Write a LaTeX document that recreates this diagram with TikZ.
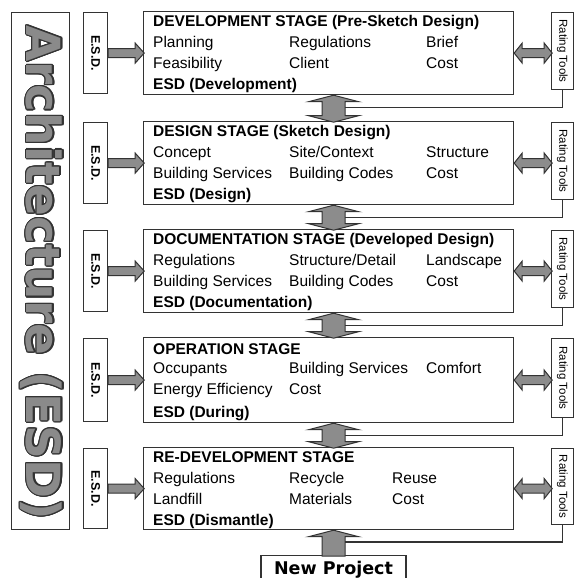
\documentclass[tikz,border=0pt]{standalone}
\usepackage{fontspec}
\setmainfont{Liberation Sans}
\newfontfamily\heavyfont{DejaVu Sans}
\usepackage{contour}
\usetikzlibrary{calc}
\contourlength{1.2pt}
\definecolor{linegray}{HTML}{333333}
\definecolor{arrowgray}{HTML}{8C8C8C}
\definecolor{wordgray}{HTML}{8A8A8A}

\tikzset{
  box/.style={draw=linegray, line width=1.2pt, anchor=north west, inner sep=0pt},
  txt/.style={anchor=base west, inner sep=0pt, font=\fontsize{15.5}{18}\selectfont},
  ttl/.style={txt, font=\fontsize{15.5}{18}\selectfont\bfseries},
  blk/.style={draw=linegray, line width=1pt, fill=arrowgray, line join=miter},
  conn/.style={draw=linegray, line width=1.2pt},
  side/.style={inner sep=0pt, rotate=-90, font=\fontsize{11.5}{12}\selectfont},
}

% one row of a stage box: [x of third column]{stage}{row}{a}{b}{c}
\newcommand{\stagerow}[6][283]{%
  \node[txt] (#2-#3a) at ($(#2.north west)+(10,15.5+21*#3)$) {#4};
  \node[txt] (#2-#3b) at ($(#2.north west)+(146,15.5+21*#3)$) {#5};
  \node[txt] (#2-#3c) at ($(#2.north west)+(#1,15.5+21*#3)$) {#6};}

\begin{document}
\begin{tikzpicture}[x=1pt, y=-1pt]
    \useasboundingbox (0,0) rectangle (573,578);

    % Architecture (ESD)
    \node[box, minimum width=58, minimum height=517] (arch) at (11,12) {};
    \node[rotate=-90, anchor=base, inner sep=0pt] (word) at (27,272.5)
        {\heavyfont\bfseries\fontsize{47}{50}\selectfont\color{wordgray}\contour{linegray}{Architecture (ESD)}};

    % Stages, E.S.D. and rating tools
    \foreach \n/\t/\b [count=\i] in {s1/11/94, s2/121/204, s3/229/312, s4/337/422, s5/447/529} {
        \node[box, minimum width=370, minimum height={\b-\t}] (\n) at (143,\t) {};
        \node[box, minimum width=24, minimum height={\b-\t-2}] (e\i) at (83,\t+1) {};
        \node[side, font=\fontsize{12.5}{13}\selectfont\bfseries] (e\i-l) at (e\i.center) {E.S.D.};
        \node[box, minimum width=21.5, minimum height={\b-\t-6}] (r\i) at (551,\t+1) {};
        \node[side] (r\i-l) at (r\i.center) {Rating Tools};
        \draw[blk] (e\i.east) ++(0,-4.5) -- ++(27,0) -- ++(0,-5.5) -- ++(9,10) -- ++(-9,10)
            -- ++(0,-5.5) -- ++(-27,0) -- cycle;
        \draw[blk] (\n.east) -- ++(8,-10) -- ++(0,5.5) -- ++(22,0) -- ++(0,-5.5) -- ++(8,10)
            -- ++(-8,10) -- ++(0,-5.5) -- ++(-22,0) -- ++(0,5.5) -- cycle;
    }

    % Arrows between stages
    \foreach \i/\t/\b in {1/94/121, 2/204/229, 3/312/337, 4/422/447} {
        \pgfmathsetmacro\L{\b-\t-13}
        \draw[blk] ($(s\i.south)+(5,0)$) -- ++(25,6.5) -- ++(-13.5,0) -- ++(0,\L) -- ++(13.5,0)
            -- ++(-25,6.5) -- ++(-25,-6.5) -- ++(13.5,0) -- ++(0,-\L) -- ++(-13.5,0) -- cycle;
        \coordinate (a\i) at (344.5,\t+13.5);
        \draw[conn] (r\i.south) |- (a\i);
    }

    % New project
    \node[box, anchor=north, minimum width=145, minimum height=25, text height=12.5, text depth=0,
        font=\heavyfont\bfseries\fontsize{17.5}{18}\selectfont] (np) at (333.5,555) {New Project};
    \draw[blk] ($(s5.south)+(5,0)$) -- ++(25,6.5) -- ++(-13.5,0) -- ++(0,19.5) -- ++(-23,0)
        -- ++(0,-19.5) -- ++(-13.5,0) -- cycle;
    \coordinate (a5) at (344.5,542);
    \draw[conn] (r5.south) |- (a5);

    % Stage texts
    \node[ttl] (s1-t) at ($(s1.north west)+(10,15.5)$) {DEVELOPMENT STAGE (Pre-Sketch Design)};
    \stagerow{s1}{1}{Planning}{Regulations}{Brief}
    \stagerow{s1}{2}{Feasibility}{Client}{Cost}
    \node[ttl] (s1-e) at ($(s1.north west)+(10,78.5)$) {ESD (Development)};

    \node[ttl] (s2-t) at ($(s2.north west)+(10,15.5)$) {DESIGN STAGE (Sketch Design)};
    \stagerow{s2}{1}{Concept}{Site/Context}{Structure}
    \stagerow{s2}{2}{Building Services}{Building Codes}{Cost}
    \node[ttl] (s2-e) at ($(s2.north west)+(10,78.5)$) {ESD (Design)};

    \node[ttl] (s3-t) at ($(s3.north west)+(10,15.5)$) {DOCUMENTATION STAGE (Developed Design)};
    \stagerow{s3}{1}{Regulations}{Structure/Detail}{Landscape}
    \stagerow{s3}{2}{Building Services}{Building Codes}{Cost}
    \node[ttl] (s3-e) at ($(s3.north west)+(10,78.5)$) {ESD (Documentation)};

    \node[ttl] (s4-t) at ($(s4.north west)+(10,17)$) {OPERATION STAGE};
    \stagerow{s4}{1}{Occupants}{Building Services}{Comfort}
    \stagerow{s4}{2}{Energy Efficiency}{Cost}{}
    \node[ttl] (s4-e) at ($(s4.north west)+(10,80)$) {ESD (During)};

    \node[ttl] (s5-t) at ($(s5.north west)+(10,15.5)$) {RE-DEVELOPMENT STAGE};
    \stagerow[249]{s5}{1}{Regulations}{Recycle}{Reuse}
    \stagerow[249]{s5}{2}{Landfill}{Materials}{Cost}
    \node[ttl] (s5-e) at ($(s5.north west)+(10,78.5)$) {ESD (Dismantle)};
\end{tikzpicture}
\end{document}
